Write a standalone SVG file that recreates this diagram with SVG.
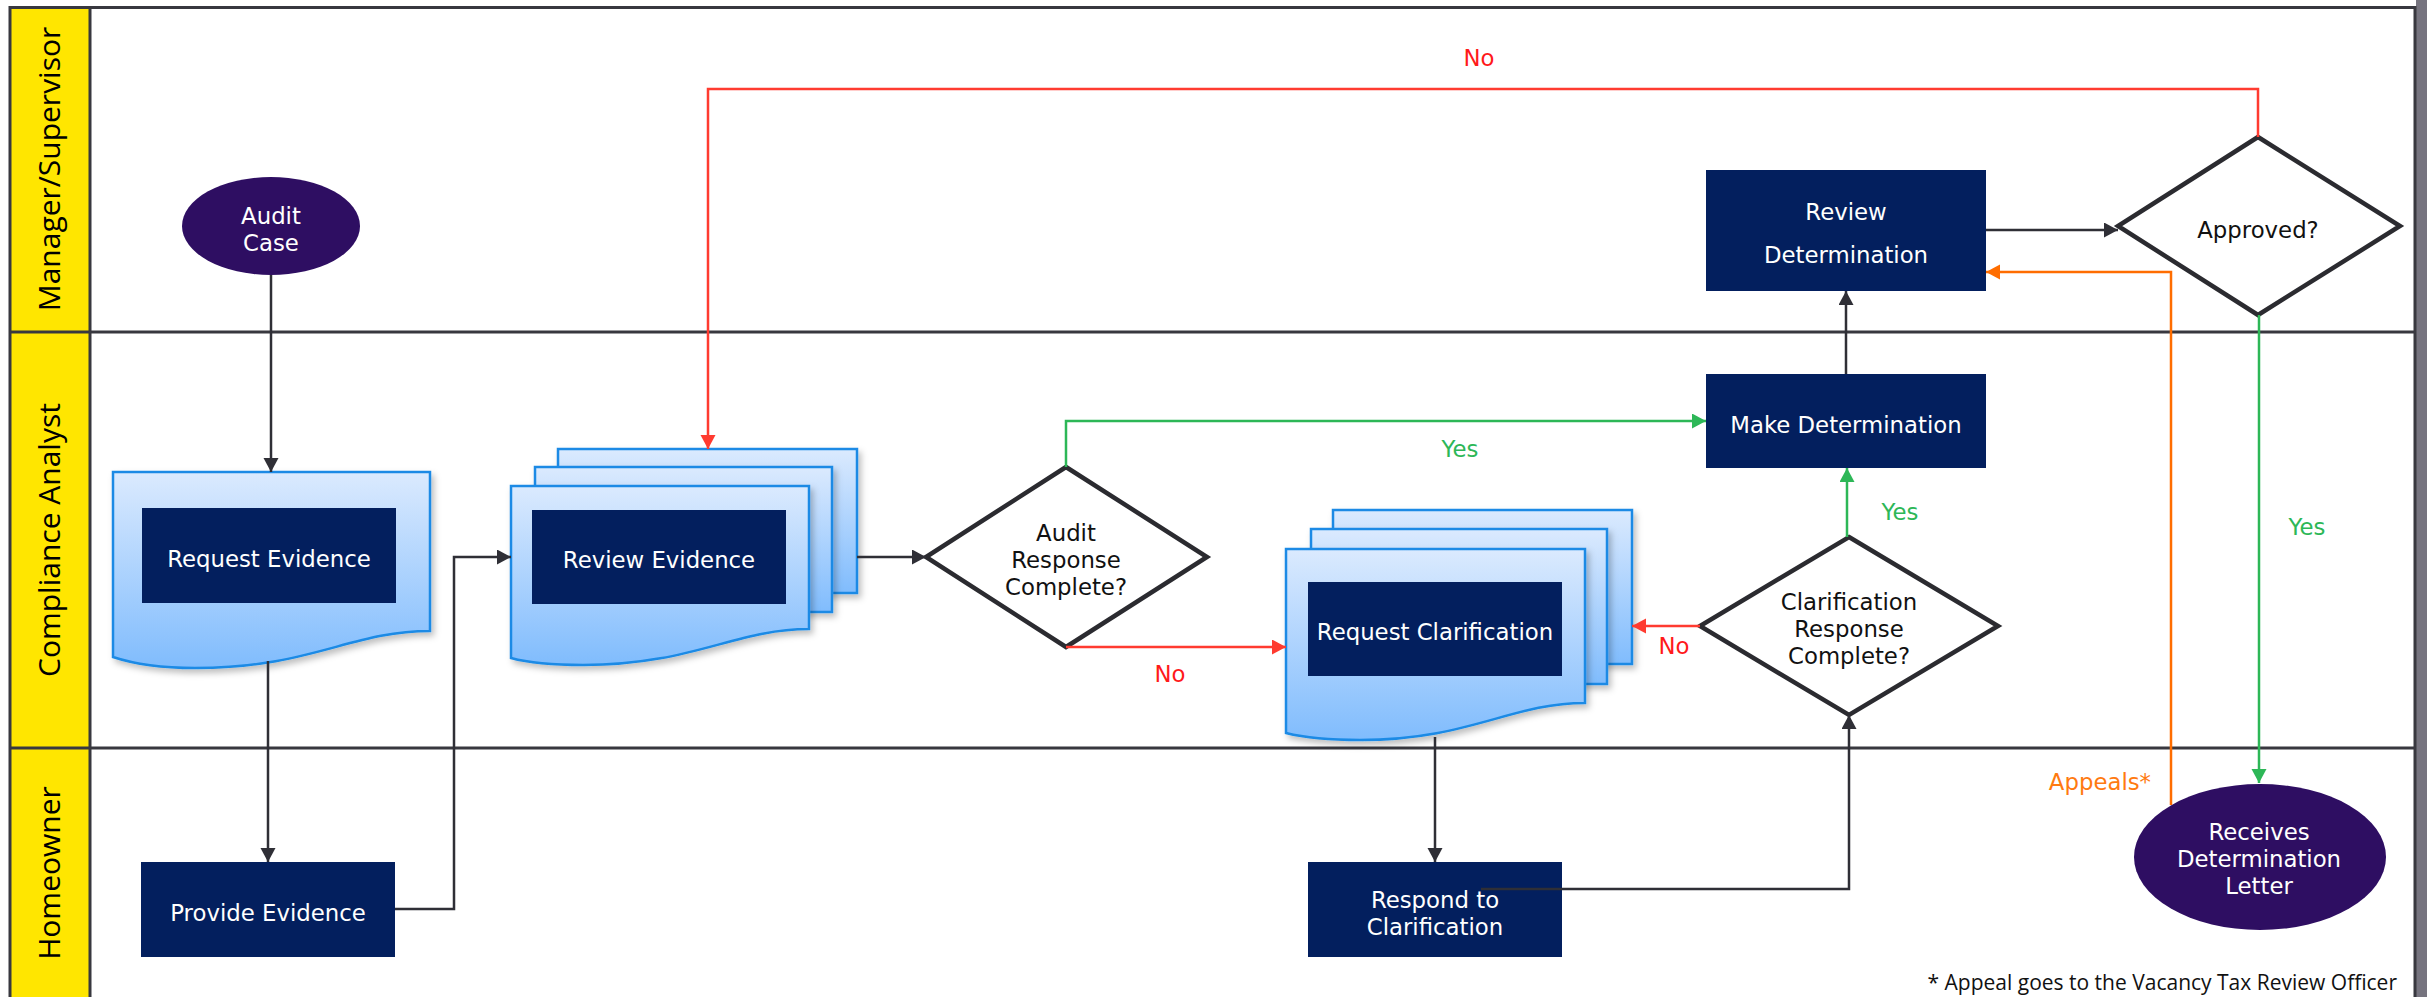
<svg xmlns="http://www.w3.org/2000/svg" width="2427" height="997" viewBox="0 0 2427 997">
<style>
.lane{fill:none;stroke:#38383f;stroke-width:3}
.lbl{font-family:"Open Sans","Noto Sans","Liberation Sans",sans-serif;font-size:30px;fill:#000;text-anchor:middle}
.t{font-family:"DejaVu Sans","Liberation Sans",sans-serif;font-size:22.8px;text-anchor:middle}
.w{fill:#fff}
.k{fill:#111}
.navy{fill:#031f5e}
.purple{fill:#2e0e62}
.doc{fill:url(#docg);stroke:#1a8ae5;stroke-width:2.5;filter:url(#sh)}
.dia{fill:#fff;stroke:#2b2b30;stroke-width:4.5;stroke-linejoin:miter}
.c{fill:none;stroke-width:2.5}
.dk{stroke:#2f2f36}
.rd{stroke:#ff3b30}
.gn{stroke:#2db757}
.or{stroke:#ff6d00}
.lr{fill:#ff1a1a}
.lg{fill:#2db757}
.lo{fill:#ff7a10}
</style>
<defs>
<linearGradient id="docg" x1="0" y1="0" x2="0" y2="1">
<stop offset="0" stop-color="#dbeafe"/>
<stop offset="1" stop-color="#80bcfd"/>
</linearGradient>
<filter id="sh" x="-5%" y="-5%" width="115%" height="120%">
<feDropShadow dx="3" dy="4" stdDeviation="3" flood-color="#000" flood-opacity="0.25"/>
</filter>
<marker id="aD" markerUnits="userSpaceOnUse" markerWidth="16" markerHeight="16" refX="14" refY="7.5" orient="auto"><path d="M0,0 L14,7.5 L0,15 z" fill="#2f2f36"/></marker>
<marker id="aR" markerUnits="userSpaceOnUse" markerWidth="16" markerHeight="16" refX="14" refY="7.5" orient="auto"><path d="M0,0 L14,7.5 L0,15 z" fill="#ff3b30"/></marker>
<marker id="aG" markerUnits="userSpaceOnUse" markerWidth="16" markerHeight="16" refX="14" refY="7.5" orient="auto"><path d="M0,0 L14,7.5 L0,15 z" fill="#2db757"/></marker>
<marker id="aO" markerUnits="userSpaceOnUse" markerWidth="16" markerHeight="16" refX="14" refY="7.5" orient="auto"><path d="M0,0 L14,7.5 L0,15 z" fill="#ff6d00"/></marker>
</defs>
<rect x="0" y="0" width="2427" height="997" fill="#fff"/>
<g id="lanes">
<rect x="2416" y="0" width="11" height="997" fill="#76747f"/>
<rect x="10" y="7" width="80" height="990" fill="#ffe600"/>
<path class="lane" d="M10,997 V7.5 H2415 V997"/>
<path class="lane" d="M90,7.5 V997"/>
<path class="lane" d="M10,332 H2415"/>
<path class="lane" d="M10,748 H2415"/>
<text class="lbl" transform="translate(60,169) rotate(-90)">Manager/Supervisor</text>
<text class="lbl" transform="translate(60,540) rotate(-90)">Compliance Analyst</text>
<text class="lbl" transform="translate(60,873) rotate(-90)">Homeowner</text>
</g>
<g id="audit-case">
<ellipse class="purple" cx="271" cy="226" rx="89" ry="49"/>
<text class="t w"><tspan x="271" y="224">Audit</tspan><tspan x="271" y="251">Case</tspan></text>
</g>
<g id="request-evidence">
<path class="doc" d="M113,472 H430 V631 C351,631 311,668 195,668 C150,668 128,662 113,657 Z"/>
<rect class="navy" x="142" y="508" width="254" height="95"/>
<text class="t w" x="269" y="567">Request Evidence</text>
</g>
<g id="review-evidence">
<rect class="doc" x="558" y="449" width="299" height="144"/>
<rect class="doc" x="535" y="467" width="297" height="145"/>
<path class="doc" d="M511,486 H809 V629 C735,629 693,665 583,665 C540,665 522,661 511,658 Z"/>
<rect class="navy" x="532" y="510" width="254" height="94"/>
<text class="t w" x="659" y="568">Review Evidence</text>
</g>
<g id="provide-evidence">
<rect class="navy" x="141" y="862" width="254" height="95"/>
<text class="t w" x="268" y="921">Provide Evidence</text>
</g>
<g id="audit-response-complete">
<polygon class="dia" points="1066,467 1207,557 1066,647 926,557"/>
<text class="t k"><tspan x="1066" y="541">Audit</tspan><tspan x="1066" y="568">Response</tspan><tspan x="1066" y="595">Complete?</tspan></text>
</g>
<g id="request-clarification">
<rect class="doc" x="1333" y="510" width="299" height="154"/>
<rect class="doc" x="1311" y="529" width="296" height="155"/>
<path class="doc" d="M1286,549 H1585 V703 C1511,703 1469,740 1360,740 C1318,740 1298,736 1286,733 Z"/>
<rect class="navy" x="1308" y="582" width="254" height="94"/>
<text class="t w" x="1435" y="640">Request Clarification</text>
</g>
<g id="respond-to-clarification">
<rect class="navy" x="1308" y="862" width="254" height="95"/>
<text class="t w"><tspan x="1435" y="908">Respond to</tspan><tspan x="1435" y="935">Clarification</tspan></text>
</g>
<g id="clarification-response-complete">
<polygon class="dia" points="1849,537 1998,626 1849,715 1700,626"/>
<text class="t k"><tspan x="1849" y="610">Clarification</tspan><tspan x="1849" y="637">Response</tspan><tspan x="1849" y="664">Complete?</tspan></text>
</g>
<g id="make-determination">
<rect class="navy" x="1706" y="374" width="280" height="94"/>
<text class="t w" x="1846" y="433">Make Determination</text>
</g>
<g id="review-determination">
<rect class="navy" x="1706" y="170" width="280" height="121"/>
<text class="t w"><tspan x="1846" y="220">Review</tspan><tspan x="1846" y="263">Determination</tspan></text>
</g>
<g id="approved">
<polygon class="dia" points="2258,137 2400,226 2258,315 2118,226"/>
<text class="t k" x="2258" y="238">Approved?</text>
</g>
<g id="receives-letter">
<ellipse class="purple" cx="2260" cy="857" rx="126" ry="73"/>
<text class="t w"><tspan x="2259" y="840">Receives</tspan><tspan x="2259" y="867">Determination</tspan><tspan x="2259" y="894">Letter</tspan></text>
</g>
<g id="connectors">
<path class="c dk" d="M271,275 V472" marker-end="url(#aD)"/>
<path class="c dk" d="M268,661 V862" marker-end="url(#aD)"/>
<path class="c dk" d="M395,909 H454 V557 H511" marker-end="url(#aD)"/>
<path class="c dk" d="M857,557 H926" marker-end="url(#aD)"/>
<path class="c gn" d="M1066,467 V421 H1706" marker-end="url(#aG)"/>
<path class="c rd" d="M1066,647 H1286" marker-end="url(#aR)"/>
<path class="c dk" d="M1435,737 V862" marker-end="url(#aD)"/>
<path class="c dk" d="M1481,889 H1849 V715" marker-end="url(#aD)"/>
<path class="c rd" d="M1700,626 H1632" marker-end="url(#aR)"/>
<path class="c gn" d="M1847,537 V468" marker-end="url(#aG)"/>
<path class="c dk" d="M1846,374 V291" marker-end="url(#aD)"/>
<path class="c dk" d="M1986,230 H2118" marker-end="url(#aD)"/>
<path class="c rd" d="M2258,137 V89 H708 V449" marker-end="url(#aR)"/>
<path class="c gn" d="M2259,315 V783" marker-end="url(#aG)"/>
<path class="c or" d="M2171,805 V272 H1986" marker-end="url(#aO)"/>
</g>
<g id="labels">
<text class="t lr" x="1479" y="66">No</text>
<text class="t lg" x="1460" y="457">Yes</text>
<text class="t lr" x="1170" y="682">No</text>
<text class="t lg" x="1900" y="520">Yes</text>
<text class="t lr" x="1674" y="654">No</text>
<text class="t lg" x="2307" y="535">Yes</text>
<text class="t lo" x="2151" y="790" style="text-anchor:end">Appeals*</text>
<text x="2397" y="990" style="font-family:'Open Sans','Noto Sans','Liberation Sans',sans-serif;font-size:21px;fill:#111;text-anchor:end">* Appeal goes to the Vacancy Tax Review Officer</text>
</g>
</svg>
